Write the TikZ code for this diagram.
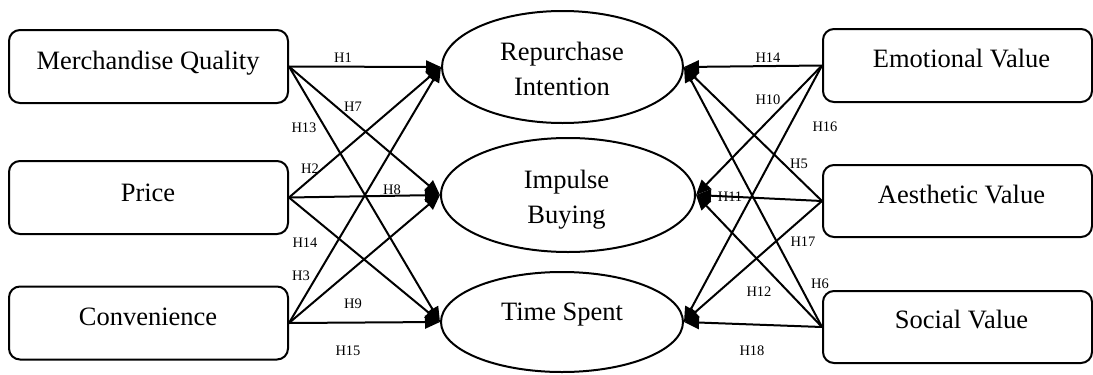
\documentclass[tikz,border=0pt]{standalone}
\usepackage{fontspec}
\setmainfont{Liberation Serif}
\usetikzlibrary{shapes.geometric,arrows.meta}
\begin{document}
\begin{tikzpicture}[x=1pt,y=-1pt,
  box/.style={draw,line width=2pt,rounded corners=11pt,inner sep=0,
    minimum width=279pt,minimum height=73pt},
  oval/.style={draw,ellipse,line width=2pt,inner sep=0},
  caption/.style={font=\fontsize{26.5}{30}\selectfont,anchor=base,inner sep=0},
  hyp/.style={font=\fontsize{14.5}{17}\selectfont,inner sep=0},
  link/.style={line width=2pt,-{Triangle[length=15pt,width=13pt]}}]
\useasboundingbox (0,0) rectangle (1093,375);

% antecedents (left)
\node[box] (mq) at (148.5,66.5) {};
\node[box] (pr) at (148.5,197.5) {};
\node[box] (cv) at (148.5,323) {};
\node[caption] (mqt) at (148,69) {Merchandise Quality};
\node[caption] (prt) at (148,201) {Price};
\node[caption] (cvt) at (148,325) {Convenience};

% values (right)
\node[box,minimum width=269pt] (ev) at (957.5,65.5) {};
\node[box,minimum width=269pt,minimum height=72pt] (av) at (957.5,201) {};
\node[box,minimum width=269pt,minimum height=72pt] (sv) at (957.5,327) {};
\node[caption] (evt) at (961.5,67) {Emotional Value};
\node[caption] (avt) at (961.5,203) {Aesthetic Value};
\node[caption] (svt) at (961.5,328) {Social Value};

% outcomes (centre)
\node[oval,minimum width=241pt,minimum height=112pt] (ri) at (562.5,67) {};
\node[oval,minimum width=254pt,minimum height=114pt] (ib) at (568,195) {};
\node[oval,minimum width=242pt,minimum height=100pt] (ts) at (562,322) {};
\node[caption] (rit1) at (562,60) {Repurchase};
\node[caption] (rit2) at (562,95) {Intention};
\node[caption] (ibt1) at (566.5,188) {Impulse};
\node[caption] (ibt2) at (566.5,223) {Buying};
\node[caption] (tst) at (562,320) {Time Spent};

% paths from the left
\foreach \s in {mq,pr,cv}
  \foreach \t in {ri,ib,ts}
    \draw[link] (\s.east) -- (\t.west);

% paths from the right
\foreach \s in {ev,av,sv}
  \foreach \t in {ri,ib,ts}
    \draw[link] (\s.west) -- (\t.east);

% hypothesis labels
\node[hyp] (h1) at (343,58) {H1};
\node[hyp] (h7) at (353,107) {H7};
\node[hyp] (h13) at (304,128) {H13};
\node[hyp] (h2) at (310,169) {H2};
\node[hyp] (h8) at (392,190) {H8};
\node[hyp] (h14l) at (305,243) {H14};
\node[hyp] (h3) at (301,276) {H3};
\node[hyp] (h9) at (353,304) {H9};
\node[hyp] (h15) at (348,351) {H15};

\node[hyp] (h14r) at (768,58) {H14};
\node[hyp] (h10) at (768,100) {H10};
\node[hyp] (h16) at (825,127) {H16};
\node[hyp] (h5) at (799,164) {H5};
\node[hyp] (h11) at (730,197) {H11};
\node[hyp] (h17) at (803,242) {H17};
\node[hyp] (h12) at (759,292) {H12};
\node[hyp] (h6) at (820,284) {H6};
\node[hyp] (h18) at (752,351) {H18};
\end{tikzpicture}
\end{document}
